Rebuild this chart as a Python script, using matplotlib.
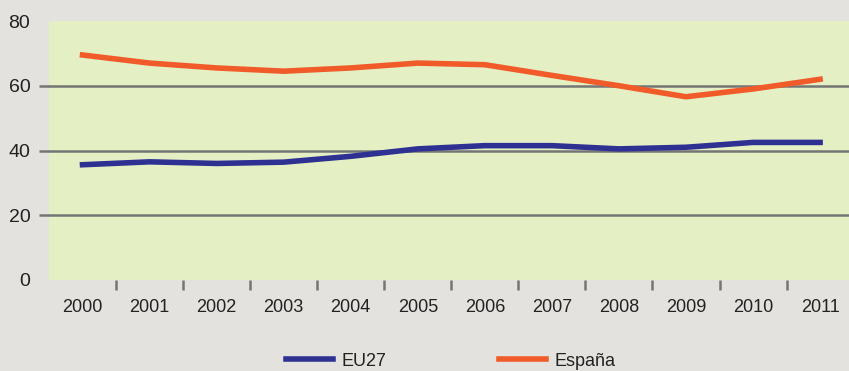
import matplotlib
matplotlib.use("Agg")
import matplotlib.pyplot as plt
import numpy as np

plt.rcParams['font.family'] = ['Liberation Sans', 'DejaVu Sans']

years = ['2000', '2001', '2002', '2003', '2004', '2005',
         '2006', '2007', '2008', '2009', '2010', '2011']
eu27 = [35.6, 36.5, 36.0, 36.4, 38.2, 40.5, 41.5, 41.5, 40.5, 41.0, 42.5, 42.5]
espana = [69.5, 67.0, 65.5, 64.5, 65.5, 67.0, 66.5, 63.2, 60.0, 56.6, 59.0, 62.0]
yticks = [0, 20, 40, 60, 80]

W, H = 849, 371
fig = plt.figure(figsize=(W / 100, H / 100), dpi=100, facecolor='#E3E2DE')
ax = fig.add_axes([49 / W, (H - 280) / H, 804.6 / W, 259 / H])
ax.set_facecolor('#E5EFC4')

x = np.arange(len(years))
ax.set_xlim(-0.5, len(years) - 0.5)
ax.set_ylim(0, 80)

for v in yticks[1:-1]:
    ax.axhline(v, color='#757575', lw=1.8, zorder=1)

l1, = ax.plot(x, eu27, color='#2E3192', lw=4, solid_capstyle='projecting',
              solid_joinstyle='round', zorder=3, label='EU27')
l2, = ax.plot(x, espana, color='#F15A29', lw=4, solid_capstyle='projecting',
              solid_joinstyle='round', zorder=3, label='España')

for s in ax.spines.values():
    s.set_visible(False)

# category labels centred, tick marks on the boundaries
ax.set_xticks(x)
ax.set_xticklabels(years, fontsize=13, color='#222222')
ax.tick_params(axis='x', length=0, pad=14)
ax.set_xticks(np.arange(0.5, len(years) - 1, 1), minor=True)
ax.tick_params(axis='x', which='minor', length=7, width=1.8, color='#757575', direction='out')

ax.set_yticks(yticks)
ax.set_yticklabels([str(v) for v in yticks], fontsize=14, color='#222222')
ax.tick_params(axis='y', length=7, width=1.8, color='#757575', pad=6.5)
for t, v in zip(ax.yaxis.get_major_ticks(), yticks):
    if v in (0, 80):
        t.tick1line.set_visible(False)

fig.legend(handles=[l1, l2], loc='center', bbox_to_anchor=(0.531, (H - 361) / H),
           ncol=2, frameon=False, fontsize=13, handlelength=2.6, handletextpad=0.5,
           columnspacing=6.2, labelcolor='#222222')

fig.savefig('out.png', dpi=100, facecolor=fig.get_facecolor())
